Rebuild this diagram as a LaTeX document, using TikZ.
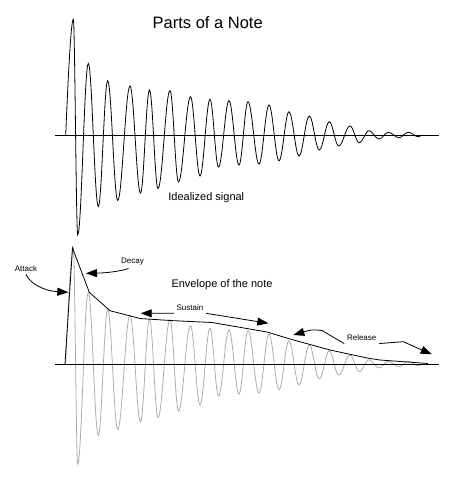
\documentclass[tikz,border=0pt]{standalone}
\usepackage{fontspec}
\setmainfont{Liberation Sans}
\usetikzlibrary{arrows.meta}
\definecolor{siggray}{RGB}{172,172,172}
\begin{document}
\begin{tikzpicture}[x=1pt,y=-1pt,
  line width=0.8pt,
  arr/.style={-{Triangle[length=11pt,width=8pt]}},
  lbl/.style={font=\fontsize{8}{9}\selectfont, inner sep=2.5pt},
  axisline/.style={line width=0.9pt},
  wave/.style={line width=0.8pt},
  ]
\useasboundingbox (0,0) rectangle (475,480);
\def\wavelist{77.7/235, 88.3/63.5, 98.3/206.5, 107.7/80.7, 117.7/200.5, 130/86, 140.5/193, 149.5/90, 158/188.5, 170/90.5, 178.5/182, 190.5/96.7, 200/176, 210/99.3, 218.5/167, 229/100.7, 239/165, 248/101.7, 259/164, 269/105, 279/160.7, 289/111.7, 299/156, 309.3/116, 319.3/150, 329.3/121.7, 338.7/146, 350/126, 359.3/142.7, 369/130.7, 379/139, 388.3/132.3, 399/137.7, 408.3/132.3, 418.3/136.7, 423/135}
% top idealized signal
\draw[wave] (65.7,135) .. controls (68,80) and (71,19.3) .. (73.3,19.3)
  foreach \x/\y [remember=\x as \px (initially 73.3), remember=\y as \py (initially 19.3)] in \wavelist
  { .. controls ({\px+0.3634*(\x-\px)},\py) and ({\x-0.3634*(\x-\px)},\y) .. (\x,\y) };
\draw[axisline] (55,135) -- (439,135);
% bottom gray signal
\begin{scope}[yshift=-229pt]
\draw[wave, siggray] (65.7,135) .. controls (68,80) and (71,19.3) .. (73.3,19.3)
  foreach \x/\y [remember=\x as \px (initially 73.3), remember=\y as \py (initially 19.3)] in \wavelist
  { .. controls ({\px+0.3634*(\x-\px)},\py) and ({\x-0.3634*(\x-\px)},\y) .. (\x,\y) };
\end{scope}
% envelope
\draw[line width=0.8pt] (65,364) -- (72.5,248) -- (89.3,292.3) -- (110,310.7) -- (140,318.5) -- (170,320.5) -- (212,322.5) -- (267,332) -- (290,339) -- (330,350) -- (367,358) -- (380,360) -- (428,363.5);
\draw[axisline] (55,364) -- (439,364);
% texts
\node[font=\fontsize{16.5}{19}\selectfont, anchor=base, inner sep=0pt] (title) at (207.7,28.3) {Parts of a Note};
\node[font=\fontsize{11}{13}\selectfont, anchor=base, inner sep=0pt] (ideal) at (206.3,200) {Idealized signal};
\node[font=\fontsize{11}{13}\selectfont, anchor=base, inner sep=0pt] (env) at (222,287) {Envelope of the note};
\node[lbl] (attack) at (26,268.5) {Attack};
\node[lbl] (decay) at (132.5,262) {Decay};
\node[lbl] (sustain) at (190,307.5) {Sustain};
\node[lbl] (release) at (361.7,337.7) {Release};
% arrow tips
\coordinate (atip) at (68.3,292.3);
\coordinate (dtip) at (86,273.3);
\coordinate (stipl) at (140.7,313.3);
\coordinate (stipr) at (268.3,323.3);
\coordinate (rbend) at (322,330.5);
\coordinate (rtipl) at (293.3,335);
\coordinate (rknee) at (403.3,341.7);
\coordinate (rtipr) at (431.7,354.3);
% arrows
\draw[arr] (attack.south) .. controls (30,284) and (45,291) .. (atip);
\draw[arr] ([xshift=-4pt]decay.south) .. controls (120,271.5) and (105,273) .. (dtip);
\draw[arr] (sustain.south west) -- (stipl);
\draw[arr] (sustain.south east) -- (stipr);
\draw[arr] (release.south west) -- (rbend) .. controls (312,329.5) .. (rtipl);
\draw[arr] (release.south east) -- (rknee) -- (rtipr);
\end{tikzpicture}
\end{document}
